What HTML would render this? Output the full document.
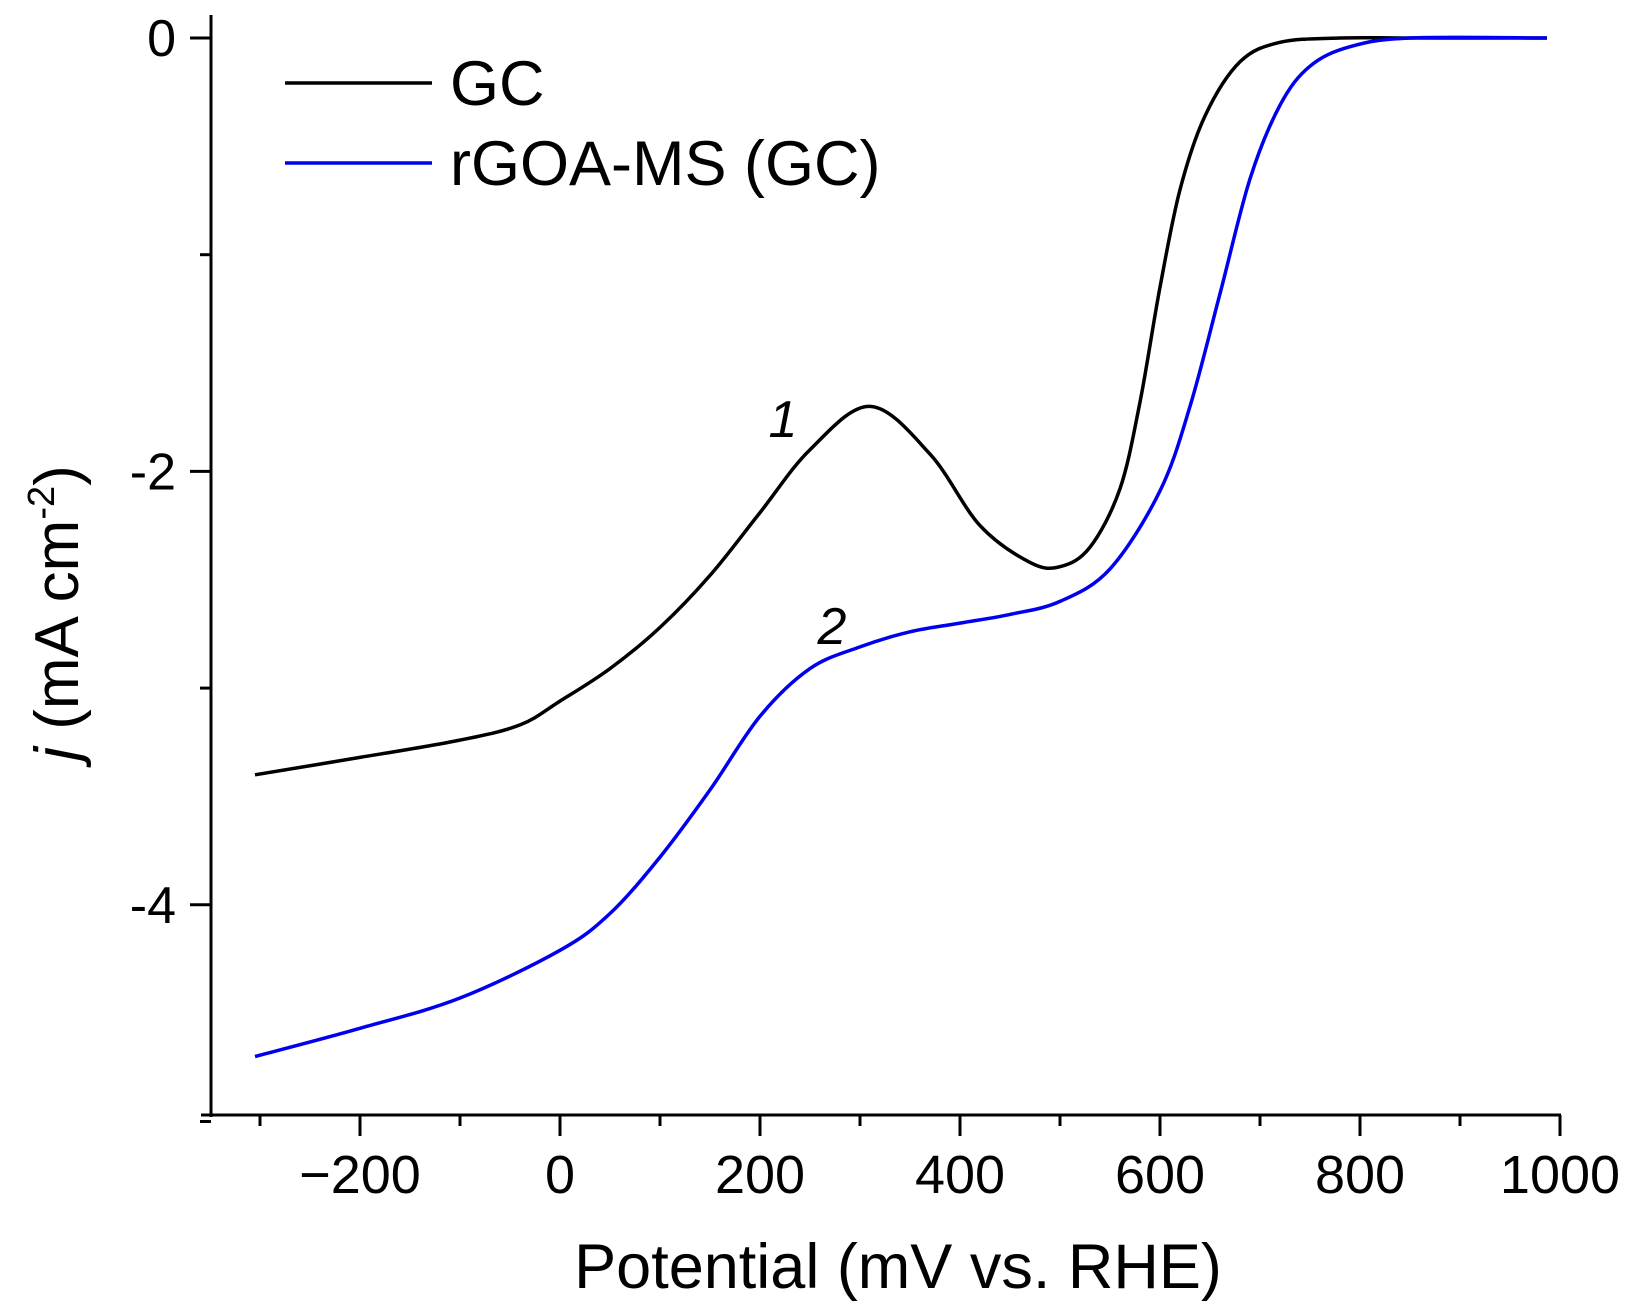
<!DOCTYPE html>
<html><head><meta charset="utf-8"><style>
html,body{margin:0;padding:0;background:#fff}
svg text{font-family:"Liberation Sans",Arial,sans-serif;fill:#000}
</style></head><body>
<svg id="chart" width="1633" height="1306" viewBox="0 0 1633 1306" xmlns="http://www.w3.org/2000/svg">
<g id="axes"></g>
<g id="series"></g>
<text x="898" y="1288" font-size="63" text-anchor="middle">Potential (mV vs. RHE)</text>
<text transform="translate(78,613) rotate(-90)" font-size="62" text-anchor="middle"><tspan font-style="italic">j</tspan> (mA cm<tspan font-size="38" dy="-24">-2</tspan><tspan dy="24">)</tspan></text>
<g>
<line x1="285" y1="83" x2="432" y2="83" stroke="#000" stroke-width="3.5"/>
<text x="450" y="105" font-size="63">GC</text>
<line x1="285" y1="163" x2="432" y2="163" stroke="#0000ee" stroke-width="3.5"/>
<text x="450" y="185" font-size="63">rGOA-MS (GC)</text>
</g>
<text x="783" y="437" font-size="52" font-style="italic" text-anchor="middle">1</text>
<text x="832" y="644" font-size="52" font-style="italic" text-anchor="middle">2</text>
</svg>
<script>
const xTicks = [-200, 0, 200, 400, 600, 800, 1000];
const xMinor = [-300, -100, 100, 300, 500, 700, 900];
const yTicks = [0, -2, -4];
const yMinor = [-1, -3, -5];
const gcX = [-305,-200,-100,-40,0,50,100,150,200,250,310,370,420,470,500,530,560,580,600,620,645,680,720,780,850,987];
const gcY = [-3.40,-3.32,-3.24,-3.17,-3.06,-2.91,-2.72,-2.48,-2.19,-1.90,-1.70,-1.92,-2.25,-2.42,-2.44,-2.35,-2.08,-1.68,-1.15,-0.70,-0.36,-0.11,-0.02,0,0,0];
const rgX = [-305,-200,-100,0,50,100,150,200,250,300,350,400,450,500,550,600,630,660,690,720,750,790,850,987];
const rgY = [-4.70,-4.57,-4.43,-4.21,-4.04,-3.78,-3.47,-3.13,-2.91,-2.81,-2.74,-2.70,-2.66,-2.60,-2.45,-2.09,-1.70,-1.18,-0.65,-0.31,-0.13,-0.04,0,0];

const NS = "http://www.w3.org/2000/svg";
const X0 = 211, X1 = 1560, XMIN = -349, XMAX = 1000;
const Y0 = 38, YPX = 216.7, YBOT = 1115, YTOP = 15;
function sx(v){ return X0 + (v - XMIN) * (X1 - X0) / (XMAX - XMIN); }
function sy(v){ return Y0 - v * YPX; }
function mk(tag, attrs, parent){ const e = document.createElementNS(NS, tag); for (const k in attrs) e.setAttribute(k, attrs[k]); parent.appendChild(e); return e; }
const axes = document.getElementById('axes');
let a = mk('line', {x1:X0, y1:YTOP, x2:X0, y2:YBOT+2, stroke:'#000','stroke-width':3}, axes);


a = mk('line', {x1:X0-10, y1:YBOT, x2:X1+1, y2:YBOT, stroke:'#000','stroke-width':3}, axes);


xTicks.forEach(v => {
  const t = mk('line', {x1:sx(v), y1:YBOT, x2:sx(v), y2:YBOT+21, stroke:'#000','stroke-width':3}, axes);
  
  
  const l = mk('text', {x:sx(v), y:1193, 'font-size':54, 'text-anchor':'middle'}, axes);
  l.textContent = v < 0 ? '\u2212' + Math.abs(v) : String(v);
  
  
});
xMinor.forEach(v => {
  const t = mk('line', {x1:sx(v), y1:YBOT, x2:sx(v), y2:YBOT+11, stroke:'#000','stroke-width':3}, axes);
  
  
});
yTicks.forEach(v => {
  const t = mk('line', {x1:X0-21, y1:sy(v), x2:X0, y2:sy(v), stroke:'#000','stroke-width':3}, axes);
  
  
  const l = mk('text', {x:176, y:sy(v)+18, 'font-size':52, 'text-anchor':'end'}, axes);
  l.textContent = String(v);
  
  
});
yMinor.forEach(v => {
  const t = mk('line', {x1:X0-11, y1:sy(v), x2:X0, y2:sy(v), stroke:'#000','stroke-width':3}, axes);
  
  
});
function pathD(xs, ys){
  const p = xs.map((x,i)=>[sx(x), sy(ys[i])]);
  let d = 'M' + p[0][0].toFixed(1) + ',' + p[0][1].toFixed(1);
  for (let i=0;i<p.length-1;i++){
    const p0=p[Math.max(0,i-1)], p1=p[i], p2=p[i+1], p3=p[Math.min(p.length-1,i+2)];
    const c1=[p1[0]+(p2[0]-p0[0])/6, p1[1]+(p2[1]-p0[1])/6];
    const c2=[p2[0]-(p3[0]-p1[0])/6, p2[1]-(p3[1]-p1[1])/6];
    d += ' C'+c1[0].toFixed(1)+','+c1[1].toFixed(1)+' '+c2[0].toFixed(1)+','+c2[1].toFixed(1)+' '+p2[0].toFixed(1)+','+p2[1].toFixed(1);
  }
  return d;
}
const series = document.getElementById('series');
const s1 = mk('path', {d:pathD(gcX, gcY), fill:'none', stroke:'#000', 'stroke-width':3.5, 'stroke-linejoin':'round'}, series);


const s2 = mk('path', {d:pathD(rgX, rgY), fill:'none', stroke:'#0000ee', 'stroke-width':3.5, 'stroke-linejoin':'round'}, series);


</script>
</body></html>
